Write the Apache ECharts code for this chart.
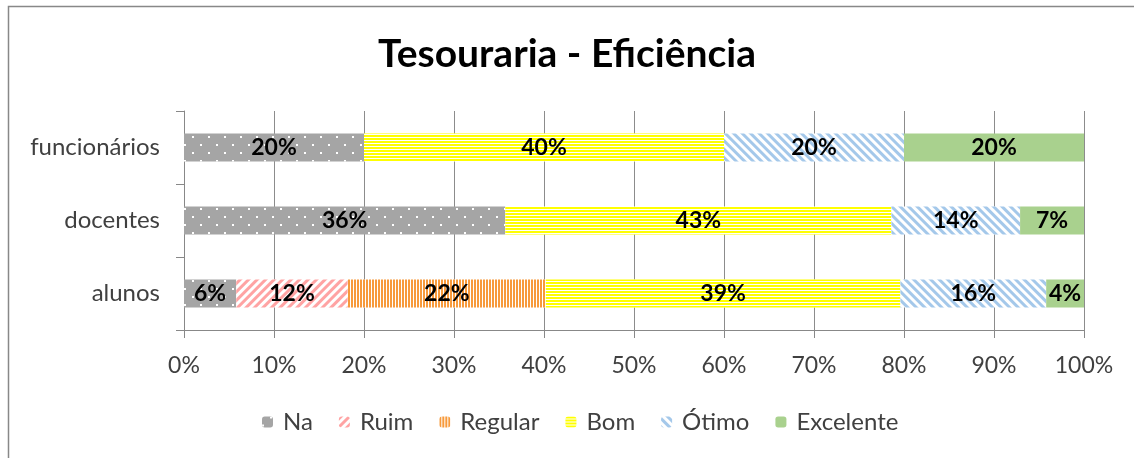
<!DOCTYPE html>
<html><head><meta charset="utf-8">
<script src="https://cdn.jsdelivr.net/npm/echarts@6/dist/echarts.min.js"></script>
<style>html,body{margin:0;padding:0;background:#fff}#c{width:1134px;height:458px}</style>
</head><body><div id="c"></div>
<script>
const title = 'Tesouraria - Eficiência';
const categories = ['alunos', 'docentes', 'funcionários'];
const xTicks = [0, 10, 20, 30, 40, 50, 60, 70, 80, 90, 100];
const seriesNames = ['Na', 'Ruim', 'Regular', 'Bom', 'Ótimo', 'Excelente'];
const na        = [5.8, 35.7, 20];
const ruim      = [12.4, 0, 0];
const regular   = [22.0, 0, 0];
const bom       = [39.4, 42.9, 40];
const otimo     = [16.2, 14.3, 20];
const excelente = [4.2, 7.1, 20];
const seriesValues = [na, ruim, regular, bom, otimo, excelente];

const FONT = 'Lato';
const styles = [
  {color: '#a5a5a5', decal: {symbol: 'rect', symbolSize: 1, color: '#ffffff', dashArrayX: [[2, 14], [0, 8, 2, 6]], dashArrayY: [2, 6]}},
  {color: '#ffffff', decal: {symbol: 'rect', symbolSize: 1, color: '#ffa3a3', dashArrayX: [1, 0], dashArrayY: [3, 3], rotation: -Math.PI / 4}},
  {color: '#ffffff', decal: {symbol: 'rect', symbolSize: 1, color: '#f79a3c', dashArrayX: [2, 1], dashArrayY: [1, 0]}},
  {color: '#ffffff', decal: {symbol: 'rect', symbolSize: 1, color: '#ffff00', dashArrayX: [1, 0], dashArrayY: [2, 1]}},
  {color: '#ffffff', decal: {symbol: 'rect', symbolSize: 1, color: '#a4c8ea', dashArrayX: [1, 0], dashArrayY: [3, 3], rotation: Math.PI / 4}},
  {color: '#a9d18e', decal: null}
];

const chart = echarts.init(document.getElementById('c'));
chart.setOption({
  animation: false,
  textStyle: {fontFamily: FONT},
  title: {text: title, left: 'center', top: 30, textStyle: {fontFamily: FONT, fontSize: 39, fontWeight: 'bold', color: '#000'}},
  graphic: [{type: 'rect', shape: {x: 8.5, y: 6.5, width: 1200, height: 600}, style: {fill: 'none', stroke: '#888', lineWidth: 1.5}, silent: true}],
  legend: {
    bottom: 19, left: 257, itemWidth: 11, itemHeight: 11, itemGap: 26,
    textStyle: {fontFamily: FONT, fontSize: 24, color: '#404040', padding: [0, 0, 0, 5]},
    data: seriesNames
  },
  grid: {left: 184, right: 50, top: 111, bottom: 128},
  xAxis: {
    type: 'value', min: 0, max: 100, interval: 10,
    axisLine: {show: true, lineStyle: {color: '#888', width: 1}},
    axisTick: {show: true, length: 8, lineStyle: {color: '#888'}},
    splitLine: {show: true, lineStyle: {color: '#8c8c8c', width: 1}},
    axisLabel: {fontFamily: FONT, fontSize: 23, color: '#404040', margin: 24,
      formatter: v => xTicks.indexOf(v) >= 0 ? v + '%' : ''}
  },
  yAxis: {
    type: 'category', data: categories,
    axisLine: {show: true, lineStyle: {color: '#888'}},
    axisTick: {show: true, length: 8, lineStyle: {color: '#888'}},
    axisLabel: {fontFamily: FONT, fontSize: 24, color: '#404040', margin: 24}
  },
  series: seriesNames.map((name, i) => ({
    name, type: 'bar', stack: 'total', barWidth: 28,
    data: seriesValues[i],
    itemStyle: {color: styles[i].color, decal: styles[i].decal},
    label: {
      show: true, position: 'inside', fontFamily: FONT, fontSize: 23, fontWeight: 'bold', color: '#000',
      formatter: p => p.value > 0 ? Math.round(p.value) + '%' : ''
    }
  }))
});
</script></body></html>
